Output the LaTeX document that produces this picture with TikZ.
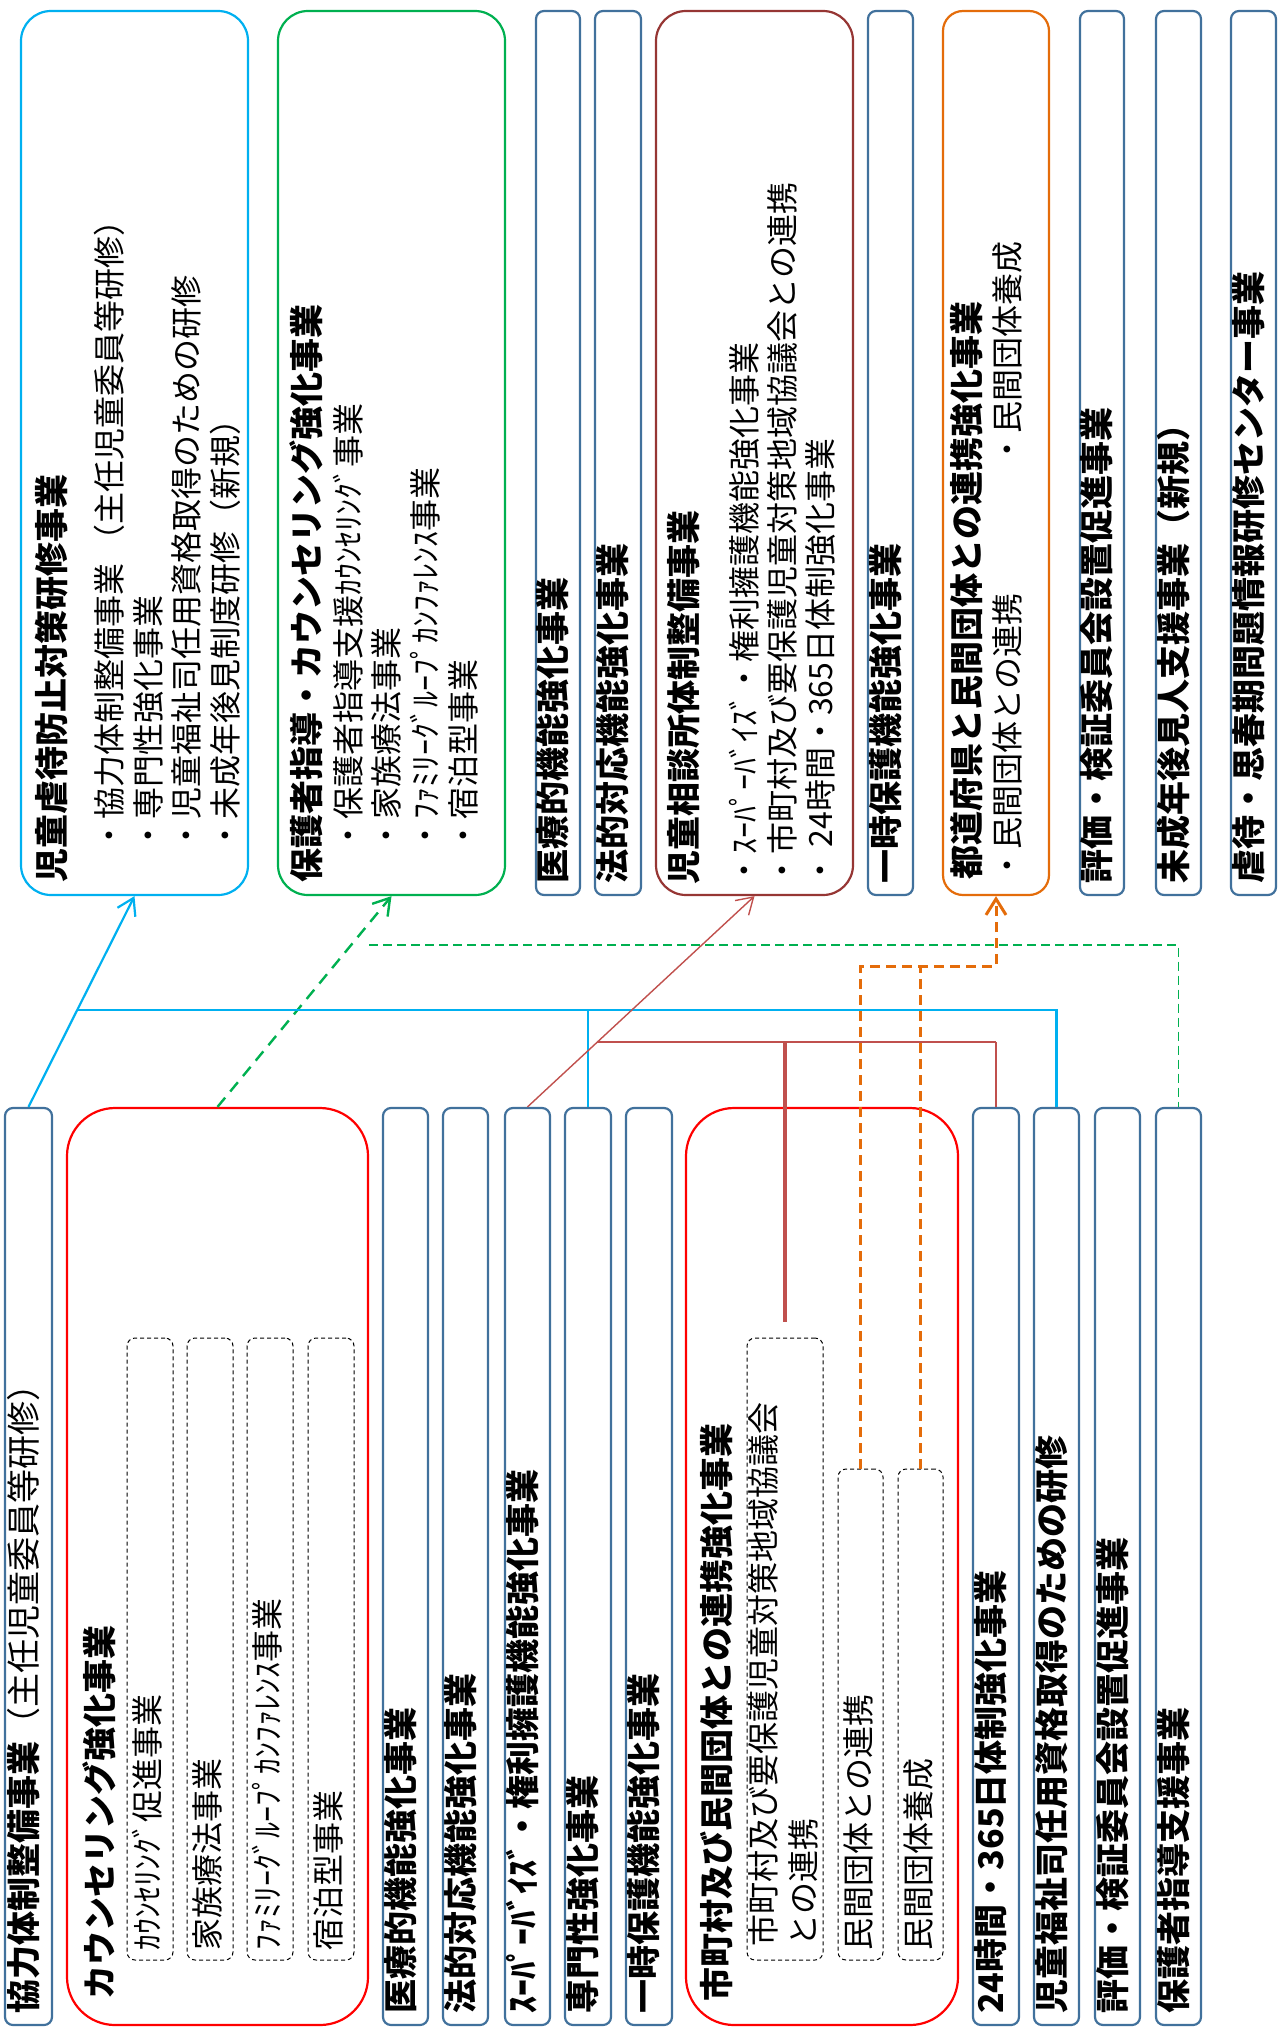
\documentclass[tikz,border=0pt]{standalone}
\usepackage{fontspec}
\setmainfont{Noto Sans CJK JP}
\usetikzlibrary{arrows.meta,calc,fit}
\definecolor{boxblue}{RGB}{65,113,156}
\definecolor{skyblue}{RGB}{0,176,240}
\definecolor{kgreen}{RGB}{0,176,80}
\definecolor{kbrown}{RGB}{150,54,52}
\definecolor{kred}{RGB}{192,80,77}
\definecolor{korange}{RGB}{228,108,10}
\tikzset{
  every node/.style={inner sep=0pt},
  nbox/.style={draw=boxblue, line width=1.1pt, rounded corners=4pt, fill=white},
  bigbox/.style={line width=1.1pt, rounded corners=15pt, fill=white},
  redbox/.style={draw=red, line width=1.1pt, rounded corners=24pt, fill=white},
  dbox/.style={draw, line width=0.5pt, dash pattern=on 2pt off 1.5pt, rounded corners=4pt},
  ttl/.style={rotate=90, anchor=west, text height=0.88em, text depth=0.12em,
    font=\bfseries\fontsize{17}{20}\selectfont},
  itm/.style={rotate=90, anchor=west, text height=0.88em, text depth=0.12em,
    font=\fontsize{16}{19}\selectfont},
  subtxt/.style={itm, font=\fontsize{16}{19}\selectfont},
  arrowv/.style={-{Straight Barb[length=8pt,width=10pt]}},
}
\begin{document}
\begin{tikzpicture}[x=0.5pt, y=-0.5pt]
  \useasboundingbox (0,0) rectangle (1279,2033);
  % upper row
  \node[bigbox, draw=skyblue, fit={(21,11) (248,895)}] (gyakuken) {};
  \node[bigbox, draw=kgreen, fit={(278,11) (505,895)}] (hogoka) {};
  \node[bigbox, draw=kbrown, fit={(656,11) (853,895)}] (jisou) {};
  \node[bigbox, draw=korange, rounded corners=10pt, fit={(943,11) (1049,895)}] (todofuken) {};
  \foreach \nm/\xa/\xb/\txt in {iryo/536/580/医療的機能強化事業, hoteki/595/641/法的対応機能強化事業,
      ichiji/868/913/一時保護機能強化事業, hyoka/1080/1124/評価・検証委員会設置促進事業,
      miseinen/1156/1201/未成年後見人支援事業（新規）, kenshu/1231/1276/虐待・思春期問題情報研修センター事業} {
    \node[nbox, fit={(\xa,11) (\xb,895)}] (\nm) {};
    \node[ttl] (\nm-t) at ($(\nm.south)+(0,-12)$) {\txt};
  }
  \node[ttl] (gyakuken-t) at (57,883) {児童虐待防止対策研修事業};
  \foreach \txt [count=\i] in {・協力体制整備事業 （主任児童委員等研修）, ・専門性強化事業,
      ・児童福祉司任用資格取得のための研修, ・未成年後見制度研修（新規）}
    \node[itm] (gyakuken-\i) at (75.5+38.5*\i,852) {\txt};
  \node[ttl] (hogoka-t) at (312,883) {保護者指導・カウンセリング強化事業};
  \foreach \txt [count=\i] in {・保護者指導支援ｶｳﾝｾﾘﾝｸﾞ事業, ・家族療法事業,
      ・ﾌｧﾐﾘｰｸﾞﾙｰﾌﾟｶﾝﾌｧﾚﾝｽ事業, ・宿泊型事業}
    \node[itm] (hogoka-\i) at (314+38.5*\i,852) {\txt};
  \node[ttl] (jisou-t) at (689,885) {児童相談所体制整備事業};
  \foreach \txt [count=\i] in {・ｽｰﾊﾟｰﾊﾞｲｽﾞ・権利擁護機能強化事業,
      ・市町村及び要保護児童対策地域協議会との連携, ・ 24時間・365日体制強化事業}
    \node[itm] (jisou-\i) at (711+38*\i,887) {\txt};
  \node[ttl] (todofuken-t) at (972,880) {都道府県と民間団体との連携強化事業};
  \node[itm] (todofuken-1) at (1012,882) {・民間団体との連携　　　　・民間団体養成};
  % lower row
  \node[redbox, fit={(67,1108) (368,2025)}] (counsel) {};
  \node[redbox, fit={(686,1108) (958,2025)}] (shichoson) {};
  \node[nbox, fit={(5,1108) (52,2025)}] (kyoryoku) {};
  \node[ttl] (kyoryoku-t) at ($(kyoryoku.south)+(0,-12)$) {協力体制整備事業\mdseries（主任児童委員等研修）};
  \foreach \nm/\xa/\xb/\txt in {iryob/383/428/医療的機能強化事業, hotekib/443/488/法的対応機能強化事業,
      sv/505/550/ｽｰﾊﾟｰﾊﾞｲｽﾞ・権利擁護機能強化事業, senmon/565/611/専門性強化事業,
      ichijib/626/672/一時保護機能強化事業, h24/973/1019/24時間・365日体制強化事業,
      ninyo/1034/1079/児童福祉司任用資格取得のための研修, hyokab/1095/1140/評価・検証委員会設置促進事業,
      hogosha/1156/1201/保護者指導支援事業} {
    \node[nbox, fit={(\xa,1108) (\xb,2025)}] (\nm) {};
    \node[ttl] (\nm-t) at ($(\nm.south)+(0,-12)$) {\txt};
  }
  \node[ttl] (counsel-t) at (105,2000) {カウンセリング強化事業};
  \foreach \nm/\xa/\txt in {cpromo/127/ｶｳﾝｾﾘﾝｸﾞ促進事業, kazoku/187/家族療法事業,
      famgc/247/ﾌｧﾐﾘｰｸﾞﾙｰﾌﾟｶﾝﾌｧﾚﾝｽ事業, shukuhaku/308/宿泊型事業} {
    \node[dbox, fit={(\xa,1338) (\xa+46,1960)}] (\nm) {};
    \node[subtxt] (\nm-t) at ($(\nm.south)+(2,-10)$) {\txt};
  }
  \node[ttl] (shichoson-t) at (722,2002) {市町村及び民間団体との連携強化事業};
  \node[dbox, fit={(747,1338) (823,1960)}] (kyogikai) {};
  \node[subtxt] (kyogikai-1) at (768,1947) {市町村及び要保護児童対策地域協議会};
  \node[subtxt] (kyogikai-2) at (808,1947) {との連携};
  \node[dbox, fit={(838,1469) (883,1960)}] (minkan) {};
  \node[subtxt] (minkan-t) at ($(minkan.south)+(2,-10)$) {民間団体との連携};
  \node[dbox, fit={(898,1469) (943,1960)}] (yosei) {};
  \node[subtxt] (yosei-t) at ($(yosei.south)+(2,-10)$) {民間団体養成};
  % connectors
  \coordinate (oj) at ($(todofuken.south)+(0,70)$);
  \draw[korange, line width=1.5pt, dash pattern=on 5pt off 3pt, arrowv] (minkan.north) |- (oj) -- (todofuken.south);
  \draw[korange, line width=1.5pt, dash pattern=on 5pt off 3pt] (yosei.north) -- (yosei.north |- oj);
  \draw[kgreen, line width=1.2pt, dash pattern=on 6pt off 4pt, arrowv] (counsel.north) -- (hogoka.south);
  \coordinate (gj) at (369,945);
  \draw[kgreen, line width=0.8pt, dash pattern=on 4.5pt off 2.5pt] (gj) -| (hogosha.north);
  \draw[skyblue, line width=1.1pt, arrowv] (kyoryoku.north) -- (gyakuken.south);
  \coordinate (bj) at ($(kyoryoku.north)!0.46!(gyakuken.south)$);
  \draw[skyblue, line width=1.1pt] (bj) -| (ninyo.north);
  \draw[skyblue, line width=1.1pt] (senmon.north) -- (senmon.north |- bj);
  \draw[kred, line width=0.7pt, arrowv] (sv.north) -- (jisou.south);
  \coordinate (rj) at ($(sv.north)!0.308!(jisou.south)$);
  \coordinate (rk) at (rj -| h24.north);
  \draw[kred, line width=1.4pt] (rj) -- (rk);
  \draw[kred, line width=0.7pt] (rk) -- (h24.north);
  \draw[kred, line width=1.6pt] (kyogikai.north |- rj) -- ([yshift=8pt]kyogikai.north);
\end{tikzpicture}
\end{document}
